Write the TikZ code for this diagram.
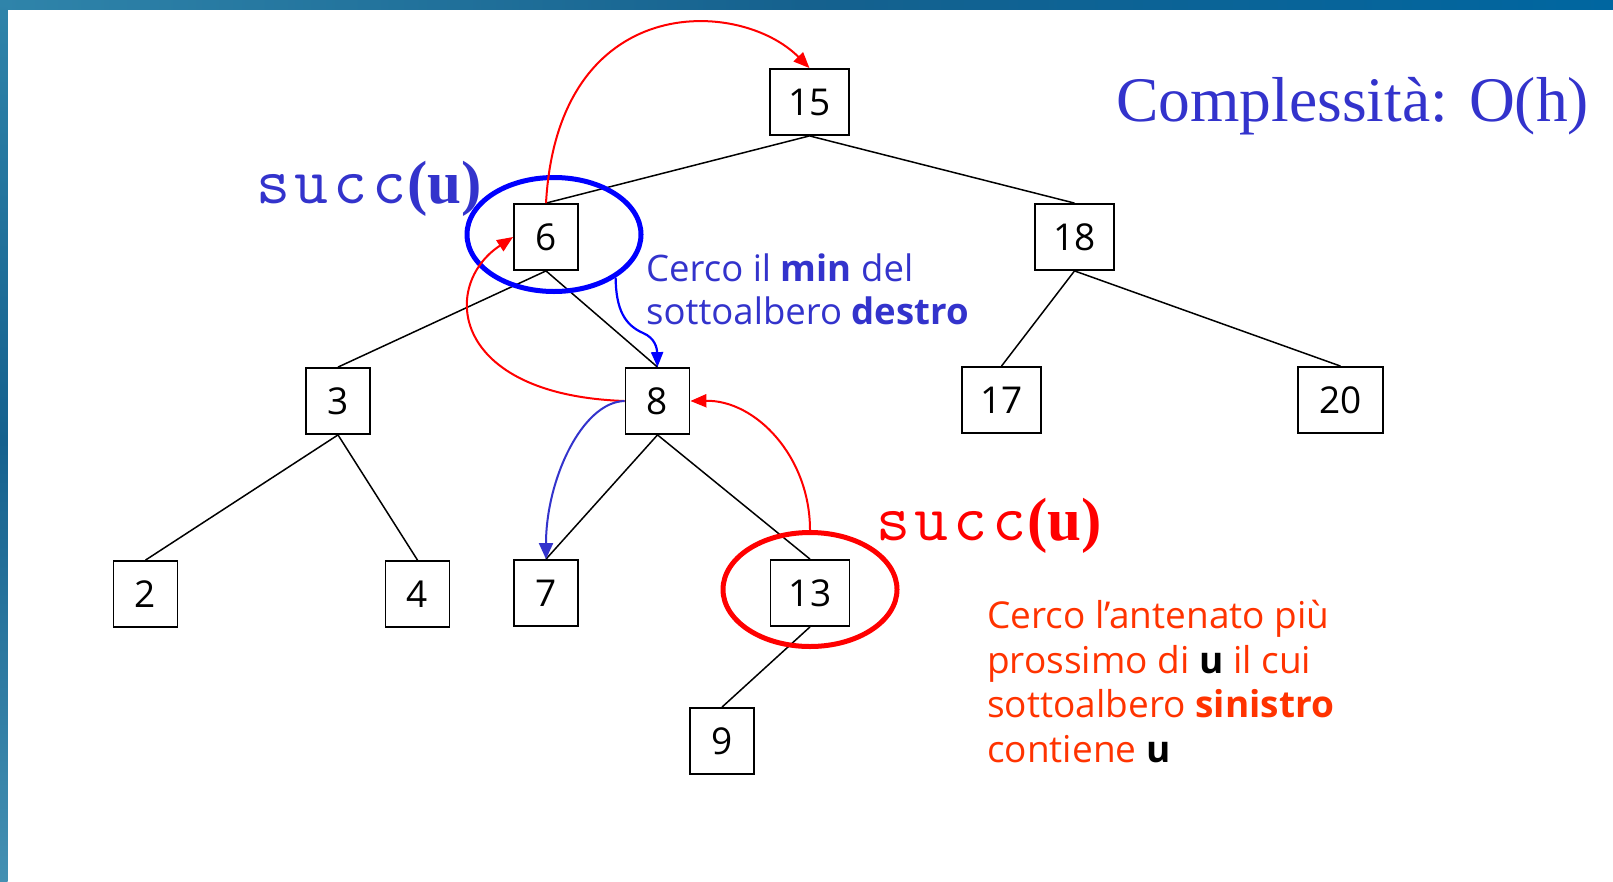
\documentclass[tikz,border=0pt]{standalone}
\usepackage{fontspec}
\setmainfont{Open Sans}
\newfontfamily\timesfont{Liberation Serif}
\usetikzlibrary{arrows.meta,shapes.geometric}
\definecolor{txtblue}{HTML}{3333CC}
\definecolor{txtred}{HTML}{FF3300}
\definecolor{barA}{HTML}{2F84AA}
\definecolor{barB}{HTML}{15618E}
\definecolor{barC}{HTML}{0066A0}
\newcommand{\succlabel}{{\fontsize{66}{66}\selectfont\ttfamily s\kern4.7pt u\kern4.7pt c\kern4.7pt c\kern1pt}{\timesfont\fontsize{61}{61}\selectfont\bfseries(u)}}
\begin{document}
\begin{tikzpicture}[x=1pt,y=-1pt,
  key/.style={draw=black,line width=1.8pt,minimum height=66pt,minimum width=64pt,inner sep=0pt,
    font=\fontsize{37}{37}\selectfont},
  wide/.style={minimum width=79pt},
  edge/.style={line width=1.5pt,black},
  ring/.style={ellipse,line width=5pt,minimum width=174pt,minimum height=114pt,inner sep=0pt},
  redarr/.style={red,line width=2pt,-{Triangle[length=16pt,width=13pt]}},
  bluearr/.style={blue,line width=2.2pt,-{Triangle[length=15pt,width=12pt]}},
  bluearrB/.style={txtblue,line width=2pt,-{Triangle[length=16pt,width=14pt]}},
  label/.style={anchor=base west,inner sep=0pt},
  bluetxt/.style={label,text=txtblue,font=\fontsize{36.5}{45}\selectfont},
  redtxt/.style={label,text=txtred,font=\fontsize{37}{45}\selectfont},
]
\useasboundingbox (0,0) rectangle (1613,881);
\fill[white] (0,0) rectangle (1613,881);
% frame bars
\shade[left color=barA,right color=barC,middle color=barB] (0,0) rectangle (1613,9.5);
\shade[top color=barA,bottom color=barA!90!white,middle color=barB] (0,0) rectangle (7.5,881);

% tree nodes
\node[key,wide] (n15) at (809.5,102) {15};
\node[key] (n6) at (546,237) {6};
\node[key,wide] (n18) at (1074.5,237) {18};
\node[key] (n3) at (338,401) {3};
\node[key] (n8) at (657.5,401) {8};
\node[key,wide] (n17) at (1001.5,400) {17};
\node[key,wide,minimum width=85pt] (n20) at (1340.5,400) {20};
\node[key] (n2) at (145.5,594) {2};
\node[key] (n4) at (417.5,594) {4};
\node[key] (n7) at (546,593) {7};
\node[key,wide] (n13) at (810,593) {13};
\node[key] (n9) at (722,741) {9};

% tree edges
\draw[edge] (n15.south) -- (n6.north);
\draw[edge] (n15.south) -- (n18.north);
\draw[edge] (n6.south) -- (n3.north);
\draw[edge] (n6.south) -- (n8.north);
\draw[edge] (n18.south) -- (n17.north);
\draw[edge] (n18.south) -- (n20.north);
\draw[edge] (n3.south) -- (n2.north);
\draw[edge] (n3.south) -- (n4.north);
\draw[edge] (n8.south) -- (n7.north);
\draw[edge] (n8.south) -- (n13.north);
\draw[edge] (n13.south) -- (n9.north);

% rings
\node[ring,draw=blue] (e6) at (554,234.5) {};
\node[ring,draw=red] (e13) at (810,589.5) {};

% arrows
\draw[redarr] (n6.north) .. controls (558,-10) and (740,-2) .. (n15.north);
\draw[redarr] (n8.west) .. controls (450,395) and (440,285) .. (n6.west);
\draw[redarr] (e13.north) .. controls (810,457) and (756,400) .. (n8.east);
\draw[bluearr] (e6.-35) .. controls (616,310) and (625,325) .. (643,333)
  .. controls (655,338) and (657,348) .. (n8.north);
\draw[bluearrB] (n8.west) .. controls (582,402) and (546,480) .. (n7.north);

% labels
\node[label,text=txtblue] (sb) at (256,203) {\succlabel};
\node[label,text=red] (sr) at (876,540) {\succlabel};
\node[label,text=txtblue,font=\timesfont\fontsize{63.5}{64}\selectfont] (cx) at (1116,121)
  {Complessità: O(h)};

\node[bluetxt] (b1) at (646,281) {Cerco il \textbf{min} del};
\node[bluetxt] (b2) at (646,324) {sottoalbero \textbf{destro}};

\node[redtxt] (r1) at (987,628) {Cerco l’antenato più};
\node[redtxt] (r2) at (987,673) {prossimo di \textcolor{black}{\textbf{u}} il cui};
\node[redtxt] (r3) at (987,717) {sottoalbero \textbf{sinistro}};
\node[redtxt] (r4) at (987,762) {contiene \textcolor{black}{\textbf{u}}};
\end{tikzpicture}
\end{document}
